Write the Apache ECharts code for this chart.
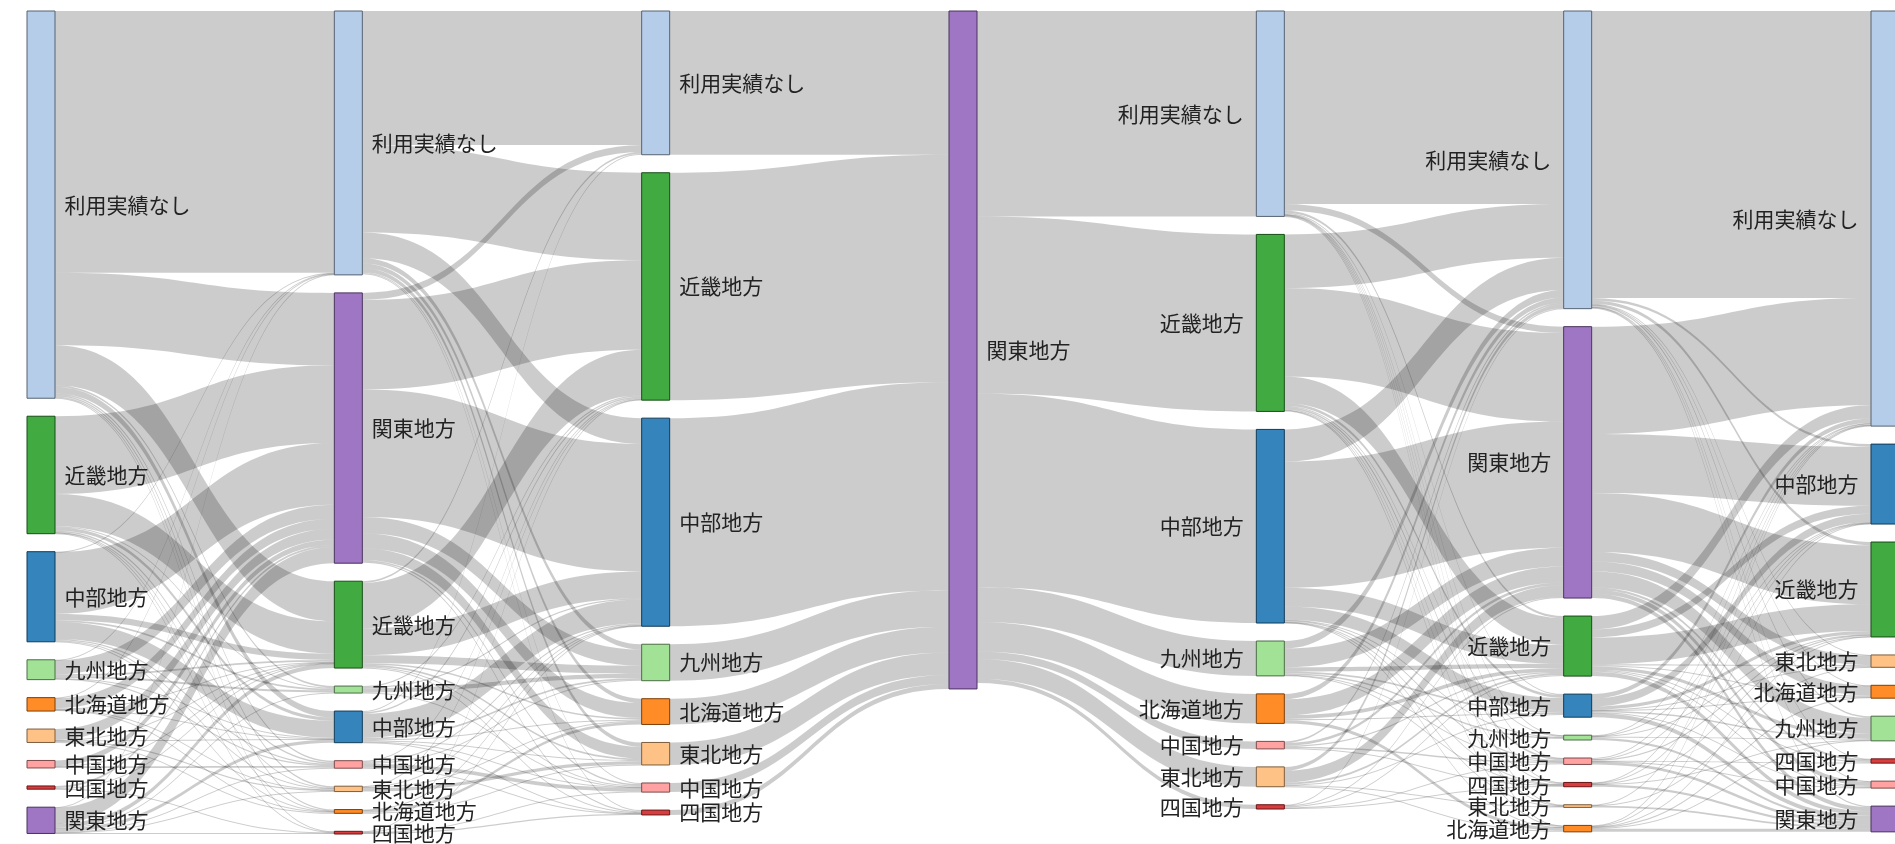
<!DOCTYPE html>
<html>
<head>
<meta charset="utf-8">
<script src="https://cdn.jsdelivr.net/npm/echarts@6/dist/echarts.min.js"></script>
<style>html,body{margin:0;padding:0;background:#fff;}#chart{width:1895px;height:844px;}</style>
</head>
<body>
<div id="chart"></div>
<script>
// Node order per stage (column), top to bottom
const stage0 = ['利用実績なし','近畿地方','中部地方','九州地方','北海道地方','東北地方','中国地方','四国地方','関東地方'];
const stage1 = ['利用実績なし','関東地方','近畿地方','九州地方','中部地方','中国地方','東北地方','北海道地方','四国地方'];
const stage2 = ['利用実績なし','近畿地方','中部地方','九州地方','北海道地方','東北地方','中国地方','四国地方'];
const stage3 = ['関東地方'];
const stage4 = ['利用実績なし','近畿地方','中部地方','九州地方','北海道地方','中国地方','東北地方','四国地方'];
const stage5 = ['利用実績なし','関東地方','近畿地方','中部地方','九州地方','中国地方','四国地方','東北地方','北海道地方'];
const stage6 = ['利用実績なし','中部地方','近畿地方','東北地方','北海道地方','九州地方','四国地方','中国地方','関東地方'];

// Flows between consecutive stages: [source, target, value]
const flows01 = [
  ['利用実績なし','利用実績なし',488],['利用実績なし','関東地方',135],['利用実績なし','近畿地方',75],['利用実績なし','中部地方',12],['利用実績なし','九州地方',3],['利用実績なし','中国地方',3],['利用実績なし','東北地方',3],['利用実績なし','北海道地方',2],['利用実績なし','四国地方',1],
  ['近畿地方','関東地方',145],['近畿地方','近畿地方',60],['近畿地方','中部地方',6],['近畿地方','九州地方',2],['近畿地方','中国地方',3],['近畿地方','東北地方',1],['近畿地方','北海道地方',1],['近畿地方','四国地方',1],
  ['中部地方','利用実績なし',1],['中部地方','関東地方',115],['中部地方','近畿地方',12],['中部地方','中部地方',32],['中部地方','九州地方',3],['中部地方','中国地方',2],['中部地方','東北地方',2],['中部地方','北海道地方',1],
  ['九州地方','利用実績なし',1],['九州地方','関東地方',26],['九州地方','近畿地方',3],['九州地方','中部地方',1],['九州地方','九州地方',4],['九州地方','中国地方',2],
  ['北海道地方','利用実績なし',1],['北海道地方','関東地方',19],['北海道地方','近畿地方',1],['北海道地方','中部地方',1],['北海道地方','東北地方',1],['北海道地方','北海道地方',2],
  ['東北地方','関東地方',20],['東北地方','近畿地方',1],['東北地方','中部地方',1],['東北地方','東北地方',2],['東北地方','北海道地方',1],
  ['中国地方','関東地方',10],['中国地方','近畿地方',1],['中国地方','中国地方',3],
  ['四国地方','関東地方',4],['四国地方','近畿地方',1],['四国地方','四国地方',1],
  ['関東地方','利用実績なし',1],['関東地方','関東地方',30],['関東地方','近畿地方',8],['関東地方','中部地方',6],['関東地方','九州地方',1],['関東地方','中国地方',1],['関東地方','東北地方',1],['関東地方','四国地方',1]
];
const flows12 = [
  ['利用実績なし','利用実績なし',250],['利用実績なし','近畿地方',163],['利用実績なし','中部地方',48],['利用実績なし','九州地方',10],['利用実績なし','北海道地方',8],['利用実績なし','東北地方',8],['利用実績なし','中国地方',2],['利用実績なし','四国地方',2],
  ['関東地方','利用実績なし',13],['関東地方','近畿地方',167],['関東地方','中部地方',238],['関東地方','九州地方',30],['関東地方','北海道地方',28],['関東地方','東北地方',22],['関東地方','中国地方',3],['関東地方','四国地方',2],
  ['近畿地方','利用実績なし',3],['近畿地方','近畿地方',85],['近畿地方','中部地方',50],['近畿地方','九州地方',15],['近畿地方','北海道地方',3],['近畿地方','東北地方',3],['近畿地方','中国地方',2],['近畿地方','四国地方',1],
  ['九州地方','近畿地方',2],['九州地方','中部地方',2],['九州地方','九州地方',8],['九州地方','中国地方',1],
  ['中部地方','利用実績なし',2],['中部地方','近畿地方',3],['中部地方','中部地方',45],['中部地方','九州地方',3],['中部地方','北海道地方',2],['中部地方','東北地方',2],['中部地方','中国地方',1],['中部地方','四国地方',1],
  ['中国地方','近畿地方',2],['中国地方','中部地方',2],['中国地方','九州地方',2],['中国地方','中国地方',7],['中国地方','四国地方',1],
  ['東北地方','近畿地方',1],['東北地方','中部地方',1],['東北地方','北海道地方',2],['東北地方','東北地方',6],
  ['北海道地方','中部地方',1],['北海道地方','北海道地方',5],['北海道地方','東北地方',1],
  ['四国地方','近畿地方',1],['四国地方','中部地方',1],['四国地方','中国地方',1],['四国地方','四国地方',2]
];
const flows23 = [
  ['利用実績なし','関東地方',268],['近畿地方','関東地方',424],['中部地方','関東地方',388],['九州地方','関東地方',68],
  ['北海道地方','関東地方',48],['東北地方','関東地方',42],['中国地方','関東地方',17],['四国地方','関東地方',9]
];
const flows34 = [
  ['関東地方','利用実績なし',383],['関東地方','近畿地方',330],['関東地方','中部地方',361],['関東地方','九州地方',65],
  ['関東地方','北海道地方',55],['関東地方','中国地方',14],['関東地方','東北地方',37],['関東地方','四国地方',8]
];
const flows45 = [
  ['利用実績なし','利用実績なし',360],['利用実績なし','関東地方',12],['利用実績なし','近畿地方',4],['利用実績なし','中部地方',2],['利用実績なし','九州地方',1],['利用実績なし','中国地方',1],['利用実績なし','四国地方',1],['利用実績なし','東北地方',1],['利用実績なし','北海道地方',1],
  ['近畿地方','利用実績なし',100],['近畿地方','関東地方',165],['近畿地方','近畿地方',50],['近畿地方','中部地方',5],['近畿地方','九州地方',2],['近畿地方','中国地方',3],['近畿地方','四国地方',2],['近畿地方','東北地方',1],['近畿地方','北海道地方',2],
  ['中部地方','利用実績なし',60],['中部地方','関東地方',235],['中部地方','近畿地方',35],['中部地方','中部地方',25],['中部地方','九州地方',1],['中部地方','中国地方',2],['中部地方','四国地方',1],['中部地方','東北地方',1],['中部地方','北海道地方',1],
  ['九州地方','利用実績なし',14],['九州地方','関東地方',35],['九州地方','近畿地方',8],['九州地方','中部地方',3],['九州地方','九州地方',3],['九州地方','中国地方',1],['九州地方','四国地方',1],
  ['北海道地方','利用実績なし',10],['北海道地方','関東地方',30],['北海道地方','近畿地方',7],['北海道地方','中部地方',2],['北海道地方','北海道地方',6],
  ['中国地方','利用実績なし',3],['中国地方','関東地方',5],['中国地方','近畿地方',2],['中国地方','中国地方',3],['中国地方','四国地方',1],
  ['東北地方','利用実績なし',7],['東北地方','関東地方',22],['東北地方','近畿地方',4],['東北地方','中部地方',1],['東北地方','東北地方',2],['東北地方','北海道地方',1],
  ['四国地方','利用実績なし',1],['四国地方','関東地方',2],['四国地方','近畿地方',2],['四国地方','中国地方',1],['四国地方','四国地方',2]
];
const flows56 = [
  ['利用実績なし','利用実績なし',535],['利用実績なし','中部地方',5],['利用実績なし','近畿地方',6],['利用実績なし','東北地方',1],['利用実績なし','北海道地方',1],['利用実績なし','九州地方',3],['利用実績なし','四国地方',1],['利用実績なし','中国地方',1],['利用実績なし','関東地方',2],
  ['関東地方','利用実績なし',200],['関東地方','中部地方',110],['関東地方','近畿地方',110],['関東地方','東北地方',18],['関東地方','北海道地方',18],['関東地方','九州地方',30],['関東地方','四国地方',4],['関東地方','中国地方',8],['関東地方','関東地方',8],
  ['近畿地方','利用実績なし',25],['近畿地方','中部地方',15],['近畿地方','近畿地方',50],['近畿地方','東北地方',2],['近畿地方','北海道地方',2],['近畿地方','九州地方',6],['近畿地方','四国地方',2],['近畿地方','中国地方',2],['近畿地方','関東地方',8],
  ['中部地方','利用実績なし',8],['中部地方','中部地方',15],['中部地方','近畿地方',6],['中部地方','東北地方',1],['中部地方','北海道地方',1],['中部地方','九州地方',3],['中部地方','中国地方',1],['中部地方','関東地方',8],
  ['九州地方','利用実績なし',1],['九州地方','中部地方',1],['九州地方','近畿地方',1],['九州地方','九州地方',2],['九州地方','関東地方',4],
  ['中国地方','利用実績なし',2],['中国地方','中部地方',1],['中国地方','近畿地方',2],['中国地方','中国地方',1],['中国地方','四国地方',1],['中国地方','関東地方',5],
  ['四国地方','利用実績なし',1],['四国地方','近畿地方',1],['四国地方','中部地方',1],['四国地方','九州地方',1],['四国地方','関東地方',4],
  ['東北地方','利用実績なし',1],['東北地方','東北地方',1],['東北地方','関東地方',3],
  ['北海道地方','利用実績なし',1],['北海道地方','北海道地方',2],['北海道地方','関東地方',6],['北海道地方','近畿地方',1],['北海道地方','中部地方',1],['北海道地方','九州地方',1]
];

// Category colours per region
const regionColors = {
  '利用実績なし':'#aec7e8','関東地方':'#9467bd','近畿地方':'#2ca02c','中部地方':'#1f77b4','九州地方':'#98df8a',
  '北海道地方':'#ff7f0e','東北地方':'#ffbb78','中国地方':'#ff9896','四国地方':'#d62728'
};

function hexToRgb(h){return [1,3,5].map(i=>parseInt(h.substr(i,2),16));}
function fillOf(h){const c=hexToRgb(h).map(v=>Math.round(v*0.9+255*0.1));return 'rgb('+c.join(',')+')';}
function strokeOf(h){const c=hexToRgb(h).map(v=>Math.round(v*0.49));return 'rgb('+c.join(',')+')';}

const stages = [stage0,stage1,stage2,stage3,stage4,stage5,stage6];
const flows = [flows01,flows12,flows23,flows34,flows45,flows56];
const SEP = '|';

const nodes = [];
stages.forEach((st, s) => {
  st.forEach(name => {
    nodes.push({
      name: s + SEP + name,
      depth: s,
      itemStyle: {color: fillOf(regionColors[name]), borderColor: strokeOf(regionColors[name]), borderWidth: 1},
      label: {position: s <= 3 ? 'right' : 'left', distance: s <= 3 ? 9 : 12}
    });
  });
});
const links = [];
flows.forEach((fl, s) => {
  fl.forEach(([a, b, v]) => {
    links.push({source: s + SEP + a, target: (s + 1) + SEP + b, value: v});
  });
});

const chart = echarts.init(document.getElementById('chart'), null, {renderer: 'canvas'});
chart.setOption({
  animation: false,
  backgroundColor: '#fff',
  series: [{
    type: 'sankey',
    left: 27, top: 11, width: 1872, height: 823,
    nodeWidth: 28,
    nodeGap: 18,
    layoutIterations: 0,
    draggable: false,
    emphasis: {disabled: true},
    data: nodes,
    links: links,
    label: {
      show: true,
      fontSize: 21,
      color: '#222',
      fontFamily: '"Noto Sans CJK JP", sans-serif',
      formatter: p => p.name.split(SEP)[1]
    },
    lineStyle: {color: '#000', opacity: 0.2, curveness: 0.5}
  }]
});
</script>
</body>
</html>
